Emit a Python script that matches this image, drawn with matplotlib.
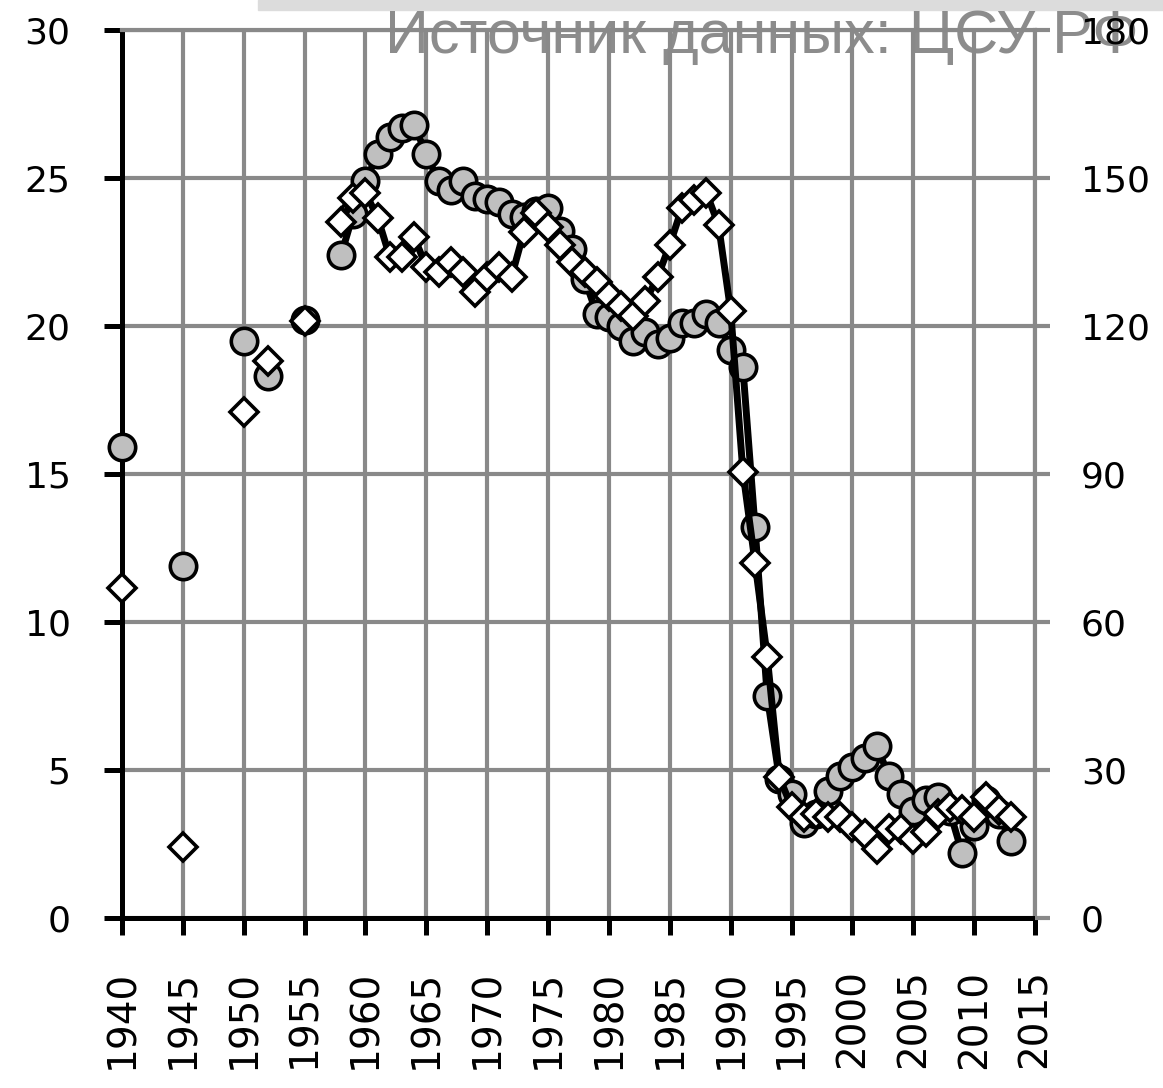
import matplotlib
matplotlib.use("Agg")
import matplotlib.pyplot as plt
import numpy as np
from matplotlib import font_manager

# early, unconnected observations
early_years = [1940, 1945, 1950, 1952, 1955]
circle_early = [15.9, 11.9, 19.5, 18.3, 20.2]        # left axis
diamond_early = [67, 14.5, 102.5, 113, 121]          # right axis

# annual series 1958-2013
years = list(range(1958, 2014))
circle_vals = [22.4, 23.8, 24.9, 25.8, 26.4, 26.7, 26.8, 25.8, 24.9, 24.6,
               24.9, 24.4, 24.3, 24.2, 23.8, 23.7, 23.9, 24.0, 23.2, 22.6,
               21.6, 20.4, 20.3, 20.0, 19.5, 19.8, 19.4, 19.6, 20.1, 20.1,
               20.4, 20.1, 19.2, 18.6, 13.2, 7.5, 4.7, 4.2, 3.2, 3.5,
               4.3, 4.8, 5.1, 5.4, 5.8, 4.8, 4.2, 3.6, 4.0, 4.1,
               3.6, 2.2, 3.1, 4.0, 3.5, 2.6]
diamond_vals = [141, 146, 147, 142, 134, 134, 138, 132, 131, 133,
                131, 127, 130, 132, 130, 139, 143, 140, 136.5, 133,
                131, 129, 126, 124, 122, 125, 130, 136.5, 144, 145.5,
                147, 140.5, 123, 90.5, 72, 53, 28.5, 22.5, 20.5, 21,
                20.5, 20.5, 18.5, 17, 14, 18, 18, 16, 17.5, 21,
                22.5, 22, 20.5, 24.5, 22, 20.5]

x_ticks = list(range(1940, 2016, 5))
left_ticks = [0, 5, 10, 15, 20, 25, 30]
right_ticks = [0, 30, 60, 90, 120, 150, 180]
source_text = "Источник данных: ЦСУ РФ"

grid_col = "#898989"

fig = plt.figure(figsize=(11.63, 10.88), dpi=100, facecolor="white")
ax = fig.add_axes([0.1049, 0.1562, 0.7851, 0.8162])
ax.patch.set_visible(False)
ax2 = ax.twinx()

# circles on left axis
ax.plot(years, circle_vals, color="black", lw=5, marker="o", ms=19,
        mfc="#bfbfbf", mec="black", mew=2.6, zorder=3, clip_on=False)
ax.plot(early_years, circle_early, ls="none", marker="o", ms=19,
        mfc="#bfbfbf", mec="black", mew=2.6, zorder=3, clip_on=False)

# diamonds on right axis
ax2.plot(years, diamond_vals, color="black", lw=5, marker="D", ms=14.5,
         mfc="white", mec="black", mew=2.6, zorder=3, clip_on=False)
ax2.plot(early_years, diamond_early, ls="none", marker="D", ms=14.5,
         mfc="white", mec="black", mew=2.6, zorder=3, clip_on=False)

ax.set_xlim(1940, 2015)
ax.set_ylim(0, 30)
ax2.set_ylim(0, 180)
ax.set_xticks(x_ticks)
ax.set_xticklabels([str(y) for y in x_ticks], rotation=90)
ax.set_yticks(left_ticks)
ax2.set_yticks(right_ticks)

ax.set_axisbelow(True)
ax.grid(True, color=grid_col, linewidth=3)

for s in ["left", "bottom"]:
    ax.spines[s].set_linewidth(3.6)
    ax.spines[s].set_color("black")
for s in ["top", "right"]:
    ax.spines[s].set_linewidth(3)
    ax.spines[s].set_color(grid_col)
for s in ax2.spines.values():
    s.set_visible(False)

ax.tick_params(axis="y", direction="out", length=13, width=3.6,
               color="black", labelsize=26, pad=24)
ax.tick_params(axis="x", direction="out", length=12, width=3.6,
               color="black", labelsize=28, pad=25)
ax2.tick_params(axis="y", direction="out", length=11, width=3,
                color=grid_col, labelsize=26, pad=22)

# watermark at the top
names = {f.name for f in font_manager.fontManager.ttflist}
wm_font = "Liberation Sans Narrow" if "Liberation Sans Narrow" in names else "Liberation Sans"
fig.patches.append(plt.Rectangle((258 / 1163, 1 - 10 / 1088), 1, 10 / 1088,
                                 transform=fig.transFigure, color="#dcdcdc",
                                 zorder=-2))
fig.text(385 / 1163, 1 - 53 / 1088, source_text, color="#8c8c8c",
         fontsize=44, family=wm_font, va="baseline", ha="left", zorder=-1)

fig.savefig("out.png", dpi=100, facecolor="white")
